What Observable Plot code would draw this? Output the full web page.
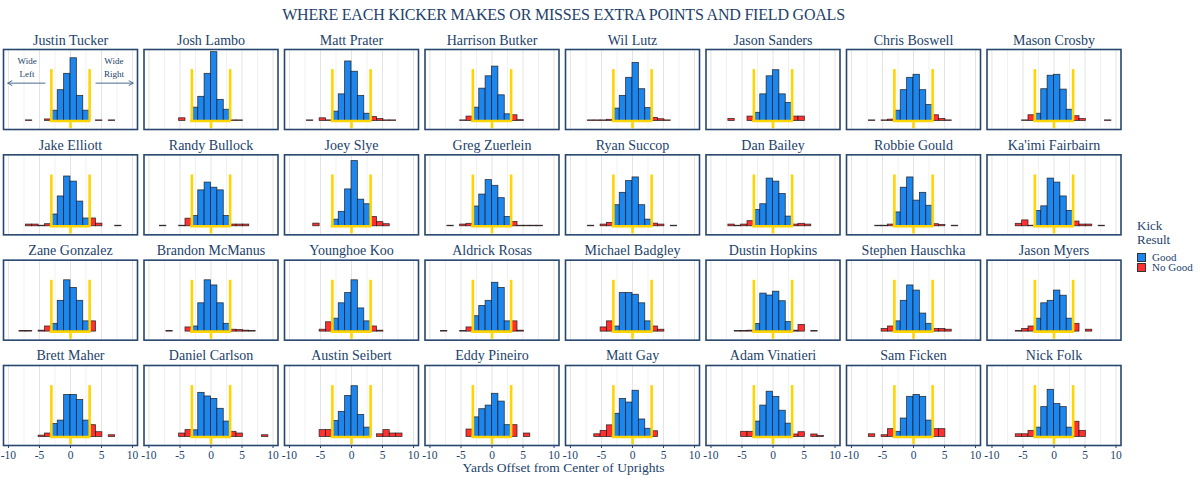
<!DOCTYPE html>
<html><head><meta charset="utf-8">
<script src="https://cdn.jsdelivr.net/npm/d3@7"></script>
<script src="https://cdn.jsdelivr.net/npm/@observablehq/plot@0.6"></script>
<style>
body{margin:0;background:#fff;font-family:"Liberation Serif","Times New Roman",serif;}
#wrap{position:relative;width:1200px;height:489px;overflow:hidden;}
#chart{position:absolute;left:0;top:0;}
#title{position:absolute;left:0;width:1127px;top:6px;text-align:center;font-size:16px;color:#233f6a;letter-spacing:-0.2px;}
#xlabel{position:absolute;left:0;width:1127px;top:461px;height:13px;line-height:13px;text-align:center;font-size:13.5px;color:#233f6a;}
#legend{position:absolute;left:1137px;top:219px;color:#233f6a;}
#legend .lt{font-size:13px;line-height:14px;}
#legend .row{display:flex;align-items:center;height:10px;margin-top:0px;font-size:11px;}
#legend .sw{width:9px;height:9px;border:0.8px solid #333;margin-right:6px;box-sizing:border-box;}
</style></head>
<body>
<div id="wrap">
  <div id="chart"></div>
  <div id="title"></div>
  <div id="xlabel"></div>
  <div id="legend"></div>
</div>
<script>
// ---------------- data ----------------
const chartTitle = "WHERE EACH KICKER MAKES OR MISSES EXTRA POINTS AND FIELD GOALS";
const xAxisLabel = "Yards Offset from Center of Uprights";
const legendTitle = ["Kick", "Result"];
const results = ["Good", "No Good"];
const resultColors = ["#1c86ee", "#ff3030"];

const kickers = [
  "Justin Tucker","Josh Lambo","Matt Prater","Harrison Butker","Wil Lutz","Jason Sanders","Chris Boswell","Mason Crosby",
  "Jake Elliott","Randy Bullock","Joey Slye","Greg Zuerlein","Ryan Succop","Dan Bailey","Robbie Gould","Ka'imi Fairbairn",
  "Zane Gonzalez","Brandon McManus","Younghoe Koo","Aldrick Rosas","Michael Badgley","Dustin Hopkins","Stephen Hauschka","Jason Myers",
  "Brett Maher","Daniel Carlson","Austin Seibert","Eddy Pineiro","Matt Gay","Adam Vinatieri","Sam Ficken","Nick Folk"
];

// goal posts: uprights 18.5 ft apart -> half width in yards; bins are a third of that
const uprightHalfWidth = 3.0833;
const binWidth = uprightHalfWidth / 3;
const postHeight = 27;      // drawn height of the uprights (share of kicks, %)
const stubDepth = -4;       // post below the crossbar

// bin indices: bin b spans [b*binWidth, (b+1)*binWidth]
const goodBins = [-3, -2, -1, 0, 1, 2];
const missBins = [-9, -8, -7, -6, -5, -4, 3, 4, 5, 6, 7, 8];

// share of kicks (%) per bin, good kicks
const good = [
  [5.4,16.2,24.8,33.0,13.2,5.4],
  [7.0,12.7,24.8,36.2,11.1,5.9],
  [4.9,14.0,31.3,25.9,13.2,3.8],
  [7.0,17.0,23.5,28.6,13.5,3.5],
  [6.5,13.2,22.7,30.5,16.7,6.8],
  [4.3,14.0,23.5,26.7,14.0,9.5],
  [5.4,16.2,22.7,24.3,16.2,8.4],
  [3.8,16.7,23.8,24.3,16.5,5.9],
  [6.2,15.7,26.2,23.5,13.0,4.1],
  [5.4,18.9,23.0,20.3,18.9,5.4],
  [3.5,7.6,19.4,34.3,14.0,11.6],
  [10.4,16.7,24.3,21.3,14.8,4.9],
  [11.1,17.6,23.8,25.7,11.1,3.5],
  [8.6,11.6,25.1,23.5,17.0,5.1],
  [7.3,20.3,25.7,13.5,17.6,10.8],
  [8.1,10.5,25.1,23.0,15.7,8.1],
  [4.1,16.2,27.0,23.0,16.2,5.4],
  [2.7,14.9,27.0,24.3,14.9,4.1],
  [6.8,14.9,20.3,27.0,12.2,5.4],
  [8.1,13.5,16.2,25.7,23.0,5.4],
  [2.7,20.3,20.3,19.4,14.9,5.4],
  [4.0,20.0,19.0,21.0,16.0,5.0],
  [5.4,16.2,24.3,21.6,9.5,4.1],
  [6.8,14.9,16.2,21.6,18.9,6.8],
  [6.8,8.6,22.1,22.1,19.4,8.6],
  [3.5,23.2,21.3,20.0,14.8,8.1],
  [8.4,13.2,21.6,26.7,11.6,4.9],
  [10.3,14.6,16.5,22.7,18.6,6.2],
  [12.2,20.0,18.1,24.3,9.2,4.3],
  [8.1,16.5,23.8,21.1,13.8,7.0],
  [2.7,9.7,21.1,22.1,21.1,8.6],
  [4.9,15.7,24.8,17.3,15.7,4.9]
];

// share of kicks (%) per bin, missed kicks (bins -9..-4, then 3..8)
const miss = [
  [0,0,0.3,0,0,0.8, 0,0.3,0,0.3,0,0],
  [0,0,0,0,1.4,0, 0.3,0.3,0,0,0,0],
  [0,0,0.3,0,1.4,0.3, 2.1,1.0,0.3,0.3,0,0],
  [0,0,0,0,0.3,2.3, 3.0,0.4,0,0,0,0],
  [0,0,0.3,0.3,0.3,0.6, 1.6,0.9,0.3,0,0,0],
  [0,0,1.0,0,0,2.3, 2.3,2.3,0,0,0,0],
  [0,0,0.3,0,0.3,0.7, 3.0,1.0,0.3,0,0,0],
  [0,0,0,0,0.3,3.0, 2.5,1.0,0,0,0,0.3],
  [0,0,0.9,0.9,0.3,1.1, 4.1,1.4,0,0,0.3,0],
  [0,0.3,0,0,0.3,4.0, 0.9,0.9,0.9,0,0,0],
  [0,0,0,1.4,0,0, 4.9,2.2,1.1,0,0,0],
  [0,0,0.3,0,0.9,1.3, 2.3,0.3,0.3,0.3,0.3,0],
  [0,0,0.3,0,0.9,1.8, 1.4,0.9,0,0.3,0,0],
  [0,0,0.9,0.3,0.9,2.7, 0.9,1.3,0.9,0,0,0],
  [0,0,0,0.3,0.3,0.9, 1.1,0.7,0,0.3,0,0],
  [0,0,0,1.3,3.1,0.3, 2.5,0.9,0.9,0,0.3,0],
  [0,0.3,0.3,0,0.5,2.7, 5.4,0,0,0,0,0],
  [0,0,0.3,0,0,2.2, 1.0,0.8,0.5,0.3,0,0],
  [0,0,0,0,1.0,4.9, 2.7,0.5,0,0,0,0],
  [0,0.3,0,0,0.3,2.2, 5.4,0.5,0,0,0,0],
  [0,0,0,0,2.2,5.4, 2.7,1.0,0,0,0,0],
  [0,0,0,0.3,0.3,0.5, 0.5,3.5,0,0.3,0,0],
  [0,0,0,0,1.4,2.7, 1.4,1.4,1.0,0,0,0],
  [0,0,0,0.3,1.4,2.7, 4.1,0,1.0,0,0,0],
  [0,0,0,0,0.7,1.8, 6.2,2.5,0,0.9,0,0],
  [0,0,0,0,1.8,3.6, 2.7,1.8,0,0,0,0.9],
  [0,0,0,0,3.6,3.6, 0,1.4,3.6,1.8,1.8,0],
  [0,0,0,0,0,3.9, 6.2,0,1.8,0,0,0],
  [0,0,0,1.4,3.2,6.1, 3.0,0,0,0,0,0],
  [0,0,0,0,2.7,2.7, 1.3,2.5,0,1.3,0.5,0],
  [0,0,1.4,0,0.9,4.1, 4.1,4.1,0,0,0,0],
  [0,0,0,1.4,1.4,3.2, 8.0,3.2,0,0,0,0]
];

const xTicks = [-10, -5, 0, 5, 10];
const gridMinor = [-7.5, -2.5, 2.5, 7.5];
const annotationLabels = [
  {label: "Wide", x: -7, y: 31.4}, {label: "Left", x: -7, y: 24.9},
  {label: "Wide", x: 7, y: 31.4}, {label: "Right", x: 7, y: 24.9}
];
const annotationArrows = [{x1: -4.1, x2: -10.1, y: 19.9}, {x1: 4.1, x2: 10.1, y: 19.9}];

// ---------------- build ----------------
const nCols = 8;
const navy = "#233f6a";
const bars = [];
kickers.forEach((k, i) => {
  good[i].forEach((v, j) => bars.push({kicker: k, i, b: goodBins[j], v, result: "Good"}));
  miss[i].forEach((v, j) => { if (v > 0) bars.push({kicker: k, i, b: missBins[j], v, result: "No Good"}); });
});
const col = d => d.i % nCols;
const row = d => Math.floor(d.i / nCols);
const titleData = kickers.map((k, i) => ({kicker: k, i}));

const plot = Plot.plot({
  width: 1200, height: 489,
  marginLeft: 3, marginRight: 79.5, marginTop: 49, marginBottom: 44,
  style: {fontFamily: "Liberation Serif, Times New Roman, serif", fontSize: "11.5px", color: navy, background: "white"},
  fx: {axis: null, paddingInner: 1 - 134 / 140.5, paddingOuter: 0, round: false},
  fy: {axis: null, paddingInner: 1 - 80 / 105.32, paddingOuter: 0, round: false},
  x: {domain: [-10.8, 10.8], ticks: xTicks, tickSize: 3, tickPadding: 2, label: null, tickFormat: d => String(d)},
  y: {domain: [-4.5, 37.6], axis: null},
  color: {domain: results, range: resultColors},
  marks: [
    Plot.ruleX(gridMinor, {stroke: "#f1f1f1", strokeWidth: 1}),
    Plot.ruleX(xTicks, {stroke: "#e4e4e4", strokeWidth: 1}),
    Plot.rectY(bars, {
      x1: d => d.b * binWidth, x2: d => (d.b + 1) * binWidth, y1: 0, y2: "v",
      fill: "result", stroke: "#1a1a1a", strokeWidth: 0.8, strokeOpacity: 0.85,
      fx: col, fy: row
    }),
    Plot.ruleX([-uprightHalfWidth, uprightHalfWidth], {y1: 0, y2: postHeight, stroke: "#ffd400", strokeWidth: 2.6}),
    Plot.ruleX([0], {y1: stubDepth, y2: 0, stroke: "#ffd400", strokeWidth: 2.6}),
    Plot.ruleY([0], {x1: -uprightHalfWidth - 0.2, x2: uprightHalfWidth + 0.2, stroke: "#ffd400", strokeWidth: 2.6}),
    Plot.frame({stroke: "#27476f", strokeWidth: 1.6}),
    Plot.text(titleData, {
      fx: col, fy: row, text: "kicker", frameAnchor: "top", lineAnchor: "bottom", dy: -5,
      fontSize: 14, fill: navy
    }),
    Plot.text(annotationLabels, {x: "x", y: "y", text: "label", fx: () => 0, fy: () => 0, fontSize: 9, fill: navy}),
    Plot.arrow(annotationArrows, {x1: "x1", x2: "x2", y1: "y", y2: "y", fx: () => 0, fy: () => 0,
      stroke: "#4a6a90", strokeWidth: 1, headLength: 7, bend: 0})
  ]
});
document.getElementById("chart").appendChild(plot);

document.getElementById("title").textContent = chartTitle;
document.getElementById("xlabel").textContent = xAxisLabel;
const lg = document.getElementById("legend");
legendTitle.forEach(t => { const d = document.createElement("div"); d.className = "lt"; d.textContent = t; lg.appendChild(d); });
const sp = document.createElement("div"); sp.style.height = "5px"; lg.appendChild(sp);
results.forEach((r, i) => {
  const d = document.createElement("div"); d.className = "row";
  const s = document.createElement("div"); s.className = "sw"; s.style.background = resultColors[i];
  const t = document.createElement("span"); t.textContent = r;
  d.appendChild(s); d.appendChild(t); lg.appendChild(d);
});
</script>
</body></html>
